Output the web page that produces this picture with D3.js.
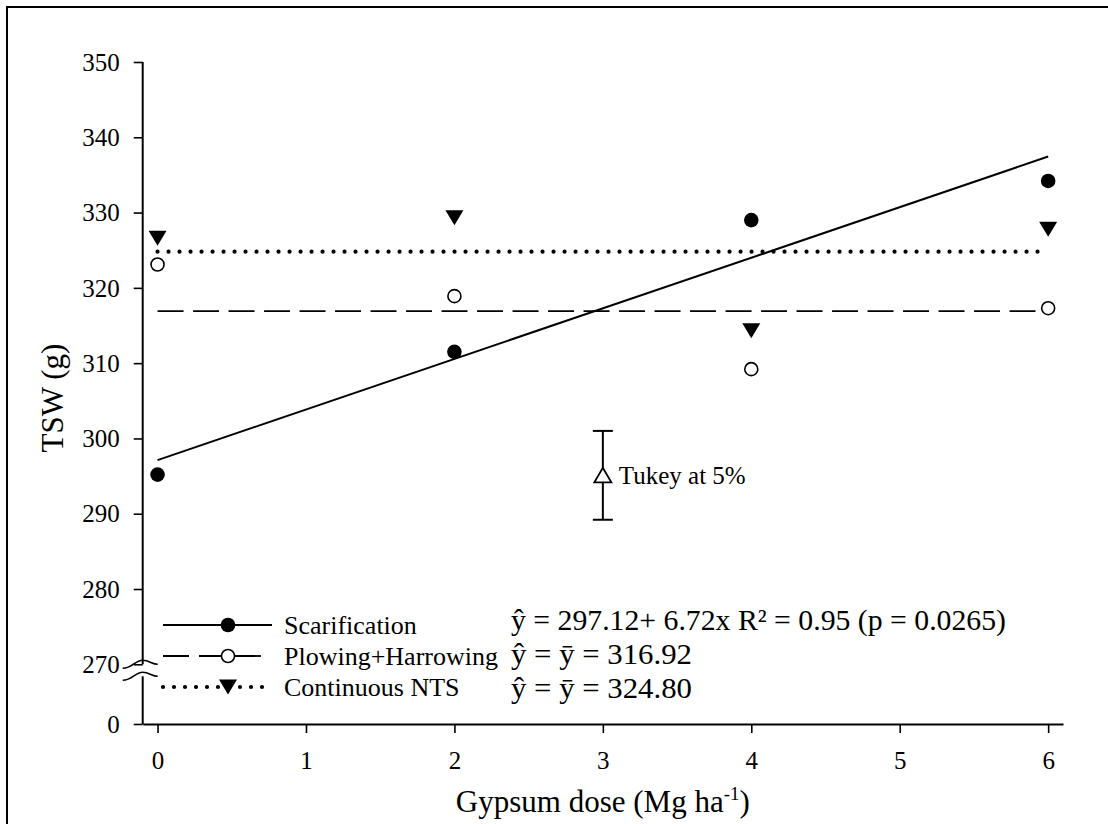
<!DOCTYPE html>
<html>
<head>
<meta charset="utf-8">
<script src="https://cdn.jsdelivr.net/npm/d3@7"></script>
<style>
  html, body { margin: 0; padding: 0; background: #fff; }
  svg text { font-family: "Liberation Serif", "Times New Roman", serif; fill: #000; }
</style>
</head>
<body>
<svg id="chart" width="1108" height="824"></svg>
<script>
// ---- data ----
const doses = [0, 2, 4, 6];
const scarification = [295.2, 311.5, 329.0, 334.2];
const plowingHarrowing = [323.1, 318.9, 309.2, 317.3];
const continuousNTS = [326.6, 329.3, 314.3, 327.8];
const scarFit = [297.12, 6.72];       // intercept, slope
const plowMean = [316.92];
const ntsMean = [324.80];
const tukey = [3, 289.2, 295.1, 301.0]; // x, low, mid, high
const xTicks = [0, 1, 2, 3, 4, 5, 6];
const yTicks = [0, 270, 280, 290, 300, 310, 320, 330, 340, 350];
const seriesNames = ["Scarification", "Plowing+Harrowing", "Continuous NTS"];
const equations = [
  "\u0177 = 297.12+ 6.72x R\u00B2 = 0.95 (p = 0.0265)",
  "\u0177 = \u0233 = 316.92",
  "\u0177 = \u0233 = 324.80"
];

const svg = d3.select("#chart");

// frame (only left/top visible inside picture)
svg.append("rect").attr("x", 7).attr("y", 7).attr("width", 1300).attr("height", 1000)
  .attr("fill", "none").attr("stroke", "#000").attr("stroke-width", 2);

const x = d3.scaleLinear().domain([-0.1, 6.1]).range([142.7, 1063]);
const y = d3.scaleLinear().domain([0, 270, 350]).range([724, 664.3, 62]);

// X axis
const xAxis = svg.append("g").attr("transform", `translate(0,${y(0)})`)
  .call(d3.axisBottom(x).tickValues(xTicks).tickSize(9).tickSizeOuter(0).tickFormat(d3.format("d")));
xAxis.select(".domain").attr("stroke-width", 2);
xAxis.selectAll(".tick line").attr("stroke-width", 1.6);
xAxis.selectAll(".tick text").attr("y", 27).attr("dy", "0.71em")
  .style("font-size", "25px").style("font-family", "Liberation Serif");

// Y axis (with break)
const yAxis = svg.append("g").attr("transform", `translate(${x(-0.1)},0)`)
  .call(d3.axisLeft(y).tickValues(yTicks).tickSize(9).tickSizeOuter(0).tickFormat(d3.format("d")));
yAxis.select(".domain").remove();
yAxis.selectAll(".tick line").attr("stroke-width", 1.6);
yAxis.selectAll(".tick text").attr("x", -23).attr("dy", "0.33em")
  .style("font-size", "25px").style("font-family", "Liberation Serif");
const ax0 = x(-0.1);
const breakTop = y(270), breakBot = y(270) + 12;
svg.append("line").attr("x1", ax0).attr("x2", ax0).attr("y1", y(350)).attr("y2", breakTop)
  .attr("stroke", "#000").attr("stroke-width", 2);
svg.append("line").attr("x1", ax0).attr("x2", ax0).attr("y1", breakBot).attr("y2", y(0))
  .attr("stroke", "#000").attr("stroke-width", 2);
[breakTop, breakBot].forEach(b => {
  svg.append("path")
    .attr("d", `M${ax0 - 20},${b + 4} C${ax0 - 10},${b + 4} ${ax0 - 8},${b - 4} ${ax0},${b - 4} C${ax0 + 7},${b - 4} ${ax0 + 9},${b} ${ax0 + 15},${b}`)
    .attr("fill", "none").attr("stroke", "#000").attr("stroke-width", 1.6);
});

// Fit lines
const line = d3.line().x(d => x(d[0])).y(d => y(d[1]));
svg.append("path").attr("d", line([[0, scarFit[0]], [6, scarFit[0] + scarFit[1] * 6]]))
  .attr("fill", "none").attr("stroke", "#000").attr("stroke-width", 2);
svg.append("path").attr("d", line([[0, plowMean[0]], [6, plowMean[0]]]))
  .attr("fill", "none").attr("stroke", "#000").attr("stroke-width", 1.8)
  .attr("stroke-dasharray", "26,9.5");
svg.append("path").attr("d", line([[0, ntsMean[0]], [5.95, ntsMean[0]]]))
  .attr("fill", "none").attr("stroke", "#000").attr("stroke-width", 4.2)
  .attr("stroke-linecap", "round").attr("stroke-dasharray", "0,11");

// markers
const triDown = "M-9,-7.5 L9,-7.5 L0,7.5 Z";
const triUp = "M-8.5,7 L8.5,7 L0,-7.5 Z";
svg.append("g").selectAll("circle").data(doses.map((d, i) => [d, scarification[i]])).join("circle")
  .attr("cx", d => x(d[0])).attr("cy", d => y(d[1])).attr("r", 7.3).attr("fill", "#000");
svg.append("g").selectAll("circle").data(doses.map((d, i) => [d, plowingHarrowing[i]])).join("circle")
  .attr("cx", d => x(d[0])).attr("cy", d => y(d[1])).attr("r", 6.5)
  .attr("fill", "#fff").attr("stroke", "#000").attr("stroke-width", 1.6);
svg.append("g").selectAll("path").data(doses.map((d, i) => [d, continuousNTS[i]])).join("path")
  .attr("transform", d => `translate(${x(d[0])},${y(d[1])})`).attr("d", triDown).attr("fill", "#000");

// Tukey bar
const tx = x(tukey[0]);
svg.append("line").attr("x1", tx).attr("x2", tx).attr("y1", y(tukey[1])).attr("y2", y(tukey[3]))
  .attr("stroke", "#000").attr("stroke-width", 2);
[tukey[1], tukey[3]].forEach(v => {
  svg.append("line").attr("x1", tx - 10).attr("x2", tx + 10).attr("y1", y(v)).attr("y2", y(v))
    .attr("stroke", "#000").attr("stroke-width", 2);
});
svg.append("path").attr("transform", `translate(${tx},${y(tukey[2])})`).attr("d", triUp)
  .attr("fill", "#fff").attr("stroke", "#000").attr("stroke-width", 1.8);
svg.append("text").attr("x", tx + 16).attr("y", y(tukey[2]) + 9).style("font-size", "25px")
  .text("Tukey at 5%");

// Legend
const legY = [625, 656, 687];
const lx0 = 163, lmk = 228;
svg.append("line").attr("x1", lx0).attr("x2", 272).attr("y1", legY[0]).attr("y2", legY[0])
  .attr("stroke", "#000").attr("stroke-width", 2);
svg.append("circle").attr("cx", lmk).attr("cy", legY[0]).attr("r", 7.3).attr("fill", "#000");
svg.append("line").attr("x1", lx0).attr("x2", 261).attr("y1", legY[1]).attr("y2", legY[1])
  .attr("stroke", "#000").attr("stroke-width", 1.8).attr("stroke-dasharray", "26,10");
svg.append("circle").attr("cx", lmk).attr("cy", legY[1]).attr("r", 6.5)
  .attr("fill", "#fff").attr("stroke", "#000").attr("stroke-width", 1.6);
svg.append("line").attr("x1", lx0).attr("x2", 265).attr("y1", legY[2]).attr("y2", legY[2])
  .attr("stroke", "#000").attr("stroke-width", 4.2).attr("stroke-linecap", "round")
  .attr("stroke-dasharray", "0,11");
svg.append("path").attr("transform", `translate(${lmk},${legY[2]})`).attr("d", triDown).attr("fill", "#000");
seriesNames.forEach((n, i) => {
  svg.append("text").attr("x", 284).attr("y", legY[i] + 9).style("font-size", "26px").text(n);
});

// Equations
const eqY = [630, 664, 698];
const eqLen = [495, 181, 181];
equations.forEach((e, i) => {
  svg.append("text").attr("x", 511).attr("y", eqY[i]).style("font-size", "30px")
    .attr("textLength", eqLen[i]).attr("lengthAdjust", "spacingAndGlyphs").text(e);
});

// Axis titles
svg.append("text").attr("x", (x(-0.1) + x(6.1)) / 2).attr("y", 812).attr("text-anchor", "middle")
  .style("font-size", "31px")
  .call(t => {
    t.append("tspan").text("Gypsum dose (Mg ha");
    t.append("tspan").attr("dy", -12).style("font-size", "19px").text("-1");
    t.append("tspan").attr("dy", 12).text(")");
  });
svg.append("text").attr("transform", `translate(63,398) rotate(-90)`).attr("text-anchor", "middle")
  .style("font-size", "31px").text("TSW (g)");
</script>
</body>
</html>
